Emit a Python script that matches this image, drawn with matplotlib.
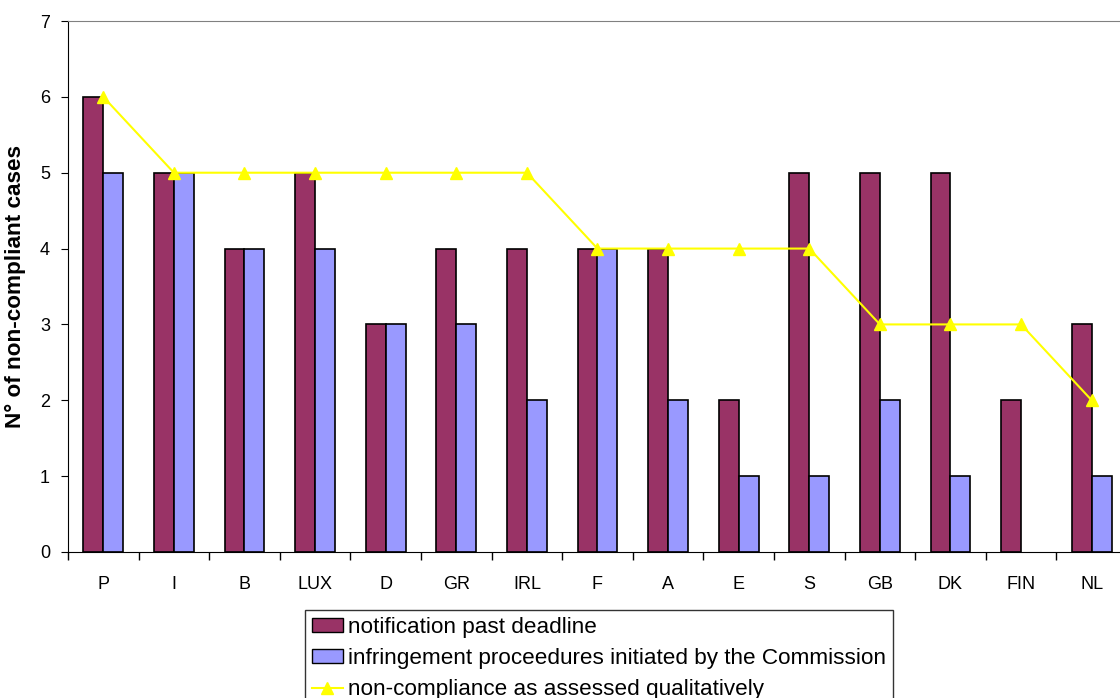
import matplotlib
matplotlib.use("Agg")
import matplotlib.pyplot as plt
import numpy as np
from matplotlib.lines import Line2D
from matplotlib.patches import Patch

plt.rcParams['font.family'] = ['Liberation Sans', 'DejaVu Sans']

countries = ["P", "I", "B", "LUX", "D", "GR", "IRL", "F", "A", "E", "S", "GB", "DK", "FIN", "NL"]
notification = [6, 5, 4, 5, 3, 4, 4, 4, 4, 2, 5, 5, 5, 2, 3]
infringement = [5, 5, 4, 4, 3, 3, 2, 4, 2, 1, 1, 2, 1, 0, 1]
qualitative = [6, 5, 5, 5, 5, 5, 5, 4, 4, 4, 4, 3, 3, 3, 2]

labels = ["notification past deadline",
          "infringement proceedures initiated by the Commission",
          "non-compliance as assessed qualitatively"]

fig = plt.figure(figsize=(11.2, 6.98), dpi=100)
ax = fig.add_axes([68/1120, 1-552/698, 1059/1120, (552-21)/698])

x = np.arange(len(countries))
w = 0.283
ec1 = ["black" if v > 0 else "none" for v in notification]
ec2 = ["black" if v > 0 else "none" for v in infringement]
ax.bar(x - w/2, notification, w, color="#993366", edgecolor=ec1, linewidth=1.2, zorder=2)
ax.bar(x + w/2, infringement, w, color="#9999FF", edgecolor=ec2, linewidth=1.2, zorder=2)
ax.plot(x, qualitative, color="#FFFF00", linewidth=1.5,
        marker="^", markersize=8, zorder=3)

ax.set_xlim(-0.5, len(countries) - 0.5)
ax.set_ylim(0, 7)
ax.set_yticks(range(0, 8))
ax.set_xticks(x)
ax.set_xticklabels(countries)
ax.set_xticks(np.arange(-0.5, len(countries), 1), minor=True)
ax.tick_params(axis='x', which='major', length=0, pad=17, labelsize=13)
ax.tick_params(axis='x', which='minor', length=6, direction='out', width=1, color="black")
ax.tick_params(axis='y', length=5, direction='out', labelsize=13, pad=8, color="black")

ax.spines['right'].set_visible(False)
ax.spines['top'].set_color("#808080")
ax.spines['left'].set_color("black")
ax.spines['bottom'].set_color("black")
ax.set_ylabel("N° of non-compliant cases", fontsize=16.2, fontweight='bold', labelpad=10)

handles = [Patch(facecolor="#993366", edgecolor="black"),
           Patch(facecolor="#9999FF", edgecolor="black"),
           Line2D([], [], color="#FFFF00", marker="^", markersize=8, linewidth=1.5)]
leg = fig.legend(handles, labels, loc="upper left", bbox_to_anchor=(305/1120, 1-610/698),
                 fontsize=16.2, frameon=True, fancybox=False, edgecolor="black",
                 handlelength=1.38, handleheight=0.62, handletextpad=0.22, labelspacing=0.46,
                 borderpad=0.3, borderaxespad=0)
leg.get_frame().set_linewidth(1.0)

fig.savefig("out.png", dpi=100)
